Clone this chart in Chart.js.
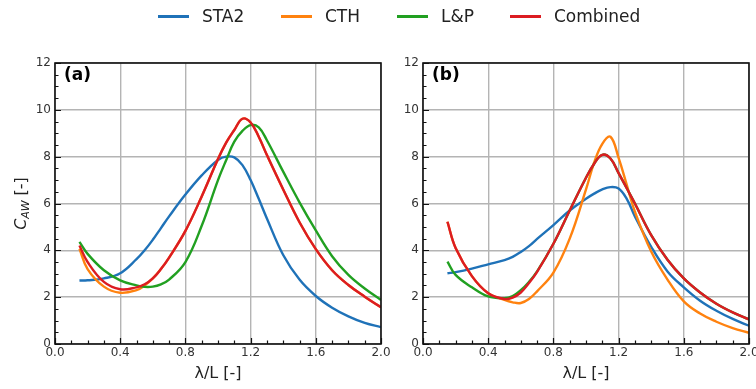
<!DOCTYPE html>
<html>
<head>
<meta charset="utf-8">
<script src="https://cdn.jsdelivr.net/npm/chart.js@4.4.1/dist/chart.umd.min.js"></script>
<style>
    body { margin: 0; background: #fff; }
    #wrap { position: relative; width: 756px; height: 389px; overflow: hidden; font-family: 'DejaVu Sans', sans-serif; }
    #chartA, #chartB { position: absolute; top: 0; }
    #chartA { left: 0; }
    #chartB { left: 368px; }
    .leg { position: absolute; top: 5px; height: 22px; display: flex; align-items: center; font-size: 17px; color: #222; }
    .leg span.sw { display: inline-block; width: 31px; height: 3px; margin-right: 13px; }
</style>
</head>
<body>
<div id="wrap">
    <canvas id="chartA" width="395" height="389"></canvas>
    <canvas id="chartB" width="388" height="389"></canvas>
    <div class="leg" style="left:158px"><span class="sw" style="background:#1f72b8"></span>STA2</div>
    <div class="leg" style="left:281px"><span class="sw" style="background:#ff820f"></span>CTH</div>
    <div class="leg" style="left:397px"><span class="sw" style="background:#21a021"></span>L&amp;P</div>
    <div class="leg" style="left:510px"><span class="sw" style="background:#dc1c22"></span>Combined</div>
</div>
<script>
// wave length ratio λ/L (same grid for every curve)
const lambdaL = [0.15, 0.2, 0.3, 0.4, 0.5, 0.55, 0.6, 0.65, 0.7, 0.8, 0.9, 1.0, 1.05, 1.1, 1.15, 1.2, 1.25, 1.3, 1.4, 1.5, 1.6, 1.7, 1.8, 1.9, 2.0];

// panel (a)
const sta2A     = [2.71, 2.72, 2.80, 3.02, 3.62, 4.00, 4.45, 4.95, 5.45, 6.38, 7.20, 7.86, 8.00, 7.97, 7.64, 7.00, 6.20, 5.36, 3.80, 2.75, 2.05, 1.55, 1.18, 0.90, 0.72];
const cthA      = [4.07, 3.20, 2.45, 2.19, 2.30, 2.50, 2.80, 3.20, 3.69, 4.83, 6.30, 7.90, 8.60, 9.14, 9.62, 9.46, 8.85, 8.07, 6.60, 5.20, 4.05, 3.15, 2.52, 2.02, 1.57];
const lpA       = [4.36, 3.85, 3.15, 2.72, 2.50, 2.44, 2.45, 2.55, 2.75, 3.50, 5.05, 7.00, 7.85, 8.64, 9.10, 9.35, 9.25, 8.70, 7.36, 6.05, 4.85, 3.75, 2.95, 2.37, 1.88];
const combinedA = [4.21, 3.50, 2.65, 2.34, 2.42, 2.55, 2.80, 3.20, 3.69, 4.83, 6.30, 7.90, 8.60, 9.14, 9.62, 9.46, 8.85, 8.07, 6.60, 5.20, 4.05, 3.15, 2.52, 2.02, 1.57];

// panel (b)
const sta2B     = [3.02, 3.07, 3.22, 3.40, 3.58, 3.72, 3.93, 4.18, 4.49, 5.08, 5.70, 6.20, 6.42, 6.60, 6.70, 6.64, 6.20, 5.45, 4.15, 3.10, 2.42, 1.85, 1.42, 1.07, 0.78];
const cthB      = [5.22, 4.10, 2.90, 2.17, 1.88, 1.78, 1.75, 1.92, 2.25, 3.05, 4.50, 6.60, 7.75, 8.55, 8.85, 7.95, 6.80, 5.65, 3.95, 2.75, 1.82, 1.30, 0.95, 0.68, 0.48];
const lpB       = [3.52, 2.95, 2.42, 2.03, 1.96, 2.05, 2.30, 2.65, 3.10, 4.28, 5.70, 7.10, 7.70, 8.08, 7.92, 7.30, 6.65, 6.00, 4.65, 3.60, 2.80, 2.20, 1.72, 1.35, 1.05];
const combinedB = [5.22, 4.10, 2.90, 2.17, 1.92, 1.98, 2.20, 2.60, 3.08, 4.28, 5.70, 7.10, 7.70, 8.08, 7.92, 7.30, 6.65, 6.00, 4.65, 3.60, 2.80, 2.20, 1.72, 1.35, 1.05];

const seriesNames = ['STA2', 'CTH', 'L&P', 'Combined'];
const seriesColors = ['#1f72b8', '#ff820f', '#21a021', '#dc1c22'];

// axis ticks
const xMajor = [0, 0.4, 0.8, 1.2, 1.6, 2.0];
const yMajor = [0, 2, 4, 6, 8, 10, 12];
const xMinorStep = 0.1;
const yMinorStep = 0.5;

function toPoints(values) {
    return values.map((v, i) => ({ x: lambdaL[i], y: v }));
}

// frame, inward ticks and panel letter
const framePlugin = {
    id: 'frame',
    afterDatasetsDraw(chart) {
        const { ctx, chartArea: a, scales } = chart;
        const xs = scales.x, ys = scales.y;
        ctx.save();
        ctx.strokeStyle = '#111';
        ctx.lineWidth = 1.2;
        ctx.beginPath();
        for (let v = 0; v <= 2.0001; v += xMinorStep) {
            const px = Math.round(xs.getPixelForValue(v)) + 0.5;
            const major = xMajor.some(m => Math.abs(m - v) < 1e-6);
            ctx.moveTo(px, a.bottom);
            ctx.lineTo(px, a.bottom - (major ? 6 : 3.5));
        }
        for (let v = 0; v <= 12.0001; v += yMinorStep) {
            const py = Math.round(ys.getPixelForValue(v)) + 0.5;
            const major = yMajor.some(m => Math.abs(m - v) < 1e-6);
            ctx.moveTo(a.left, py);
            ctx.lineTo(a.left + (major ? 6 : 3.5), py);
        }
        ctx.stroke();
        ctx.lineWidth = 1.6;
        ctx.strokeRect(a.left, a.top, a.right - a.left, a.bottom - a.top);

        ctx.fillStyle = '#000';
        ctx.font = 'bold 17px "DejaVu Sans"';
        ctx.textBaseline = 'middle';
        ctx.fillText(chart.options.plugins.frame.letter, a.left + 9, a.top + 13);
        ctx.restore();
    }
};

// y title with subscript: C_AW [-]
const yTitlePlugin = {
    id: 'yTitle',
    afterDraw(chart) {
        if (!chart.options.plugins.yTitle.show) return;
        const { ctx, chartArea: a } = chart;
        ctx.save();
        ctx.translate(22, (a.top + a.bottom) / 2);
        ctx.rotate(-Math.PI / 2);
        ctx.fillStyle = '#222';
        ctx.textBaseline = 'middle';
        const big = 'italic 16px "DejaVu Sans"';
        const small = 'italic 11px "DejaVu Sans"';
        const norm = '16px "DejaVu Sans"';
        ctx.font = big; const w1 = ctx.measureText('C').width;
        ctx.font = small; const w2 = ctx.measureText('AW').width;
        ctx.font = norm; const w3 = ctx.measureText(' [-]').width;
        let x = -(w1 + w2 + w3) / 2;
        ctx.font = big; ctx.fillText('C', x, 0); x += w1;
        ctx.font = small; ctx.fillText('AW', x, 4); x += w2;
        ctx.font = norm; ctx.fillText(' [-]', x, 0);
        ctx.restore();
    }
};

function makeChart(id, data, letter, showYTitle, rightPad) {
    const datasets = data.map((vals, i) => ({
        label: seriesNames[i],
        data: toPoints(vals),
        borderColor: seriesColors[i],
        borderWidth: 2.4,
        pointRadius: 0,
        tension: 0.4,
        order: data.length - i,   // Combined on top, STA2 at the bottom
        fill: false
    }));
    return new Chart(document.getElementById(id), {
        type: 'line',
        data: { datasets },
        plugins: [framePlugin, yTitlePlugin],
        options: {
            responsive: false,
            animation: false,
            devicePixelRatio: 1,
            layout: { padding: { top: 63, left: 0, right: rightPad, bottom: 0 } },
            plugins: {
                legend: { display: false },
                tooltip: { enabled: false },
                frame: { letter },
                yTitle: { show: showYTitle }
            },
            scales: {
                x: {
                    type: 'linear',
                    min: 0, max: 2,
                    afterBuildTicks: s => { s.ticks = xMajor.map(v => ({ value: v })); },
                    afterFit: s => { s.height = 45; s.paddingLeft = 0; s.paddingRight = 0; },
                    ticks: {
                        callback: v => v.toFixed(1),
                        color: '#333',
                        font: { family: 'DejaVu Sans', size: 12 },
                        padding: 2,
                        maxRotation: 0,
                        autoSkip: false
                    },
                    grid: { color: '#b4b4b4', lineWidth: 1.4, drawTicks: false },
                    border: { display: false },
                    title: {
                        display: true,
                        text: 'λ/L [-]',
                        color: '#222',
                        font: { family: 'DejaVu Sans', size: 16 },
                        padding: { top: 0, bottom: 6 }
                    }
                },
                y: {
                    type: 'linear',
                    min: 0, max: 12,
                    afterBuildTicks: s => { s.ticks = yMajor.map(v => ({ value: v })); },
                    afterFit: s => { s.width = 55; s.paddingTop = 0; s.paddingBottom = 0; },
                    ticks: {
                        color: '#333',
                        font: { family: 'DejaVu Sans', size: 12 },
                        padding: 4,
                        autoSkip: false
                    },
                    grid: { color: '#b4b4b4', lineWidth: 1.4, drawTicks: false },
                    border: { display: false }
                }
            }
        }
    });
}

makeChart('chartA', [sta2A, cthA, lpA, combinedA], '(a)', true, 14);
makeChart('chartB', [sta2B, cthB, lpB, combinedB], '(b)', false, 7);
</script>
</body>
</html>
